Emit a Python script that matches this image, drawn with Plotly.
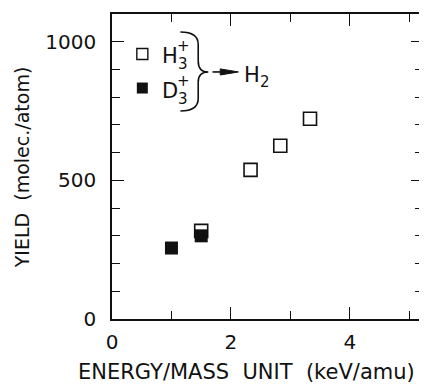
import plotly.graph_objects as go

# Data
h3_energy = [1.5, 2.33, 2.83, 3.33]
h3_yield = [318, 538, 625, 722]
d3_energy = [1.0, 1.5]
d3_yield = [256, 300]

x_ticks = [0, 2, 4]
y_ticks = [0, 500, 1000]

FONT = "DejaVu Sans, Verdana, sans-serif"
INK = "#111111"

fig = go.Figure()
fig.add_trace(go.Scatter(x=h3_energy, y=h3_yield, mode="markers",
                         marker=dict(symbol="square-open", size=13, color=INK,
                                     line=dict(width=1.6, color=INK)),
                         showlegend=False))
fig.add_trace(go.Scatter(x=d3_energy, y=d3_yield, mode="markers",
                         marker=dict(symbol="square", size=13, color=INK,
                                     line=dict(width=0)),
                         showlegend=False))

# legend keys (decoration)
fig.add_trace(go.Scatter(x=[0.51], y=[956], mode="markers",
                         marker=dict(symbol="square-open", size=11, color=INK,
                                     line=dict(width=1.4, color=INK)),
                         showlegend=False, hoverinfo="skip"))
fig.add_trace(go.Scatter(x=[0.51], y=[833], mode="markers",
                         marker=dict(symbol="square", size=11, color=INK),
                         showlegend=False, hoverinfo="skip"))

def txt(x, y, t, size):
    fig.add_annotation(x=x, y=y, text=t, showarrow=False, xref="x", yref="y",
                       font=dict(family=FONT, size=size, color=INK),
                       xanchor="center", yanchor="middle")

txt(0.97, 949, "H", 21)
txt(1.20, 985, "+", 15)
txt(1.20, 918, "3", 15)
txt(0.98, 822, "D", 21)
txt(1.20, 858, "+", 15)
txt(1.20, 795, "3", 15)
txt(2.36, 880, "H", 21)
txt(2.57, 853, "2", 15)

# brace
fig.add_shape(type="path",
              path="M 1.15,1035 Q 1.45,1035 1.45,990 L 1.45,930 Q 1.45,891 1.62,891 "
                   "Q 1.45,891 1.45,855 L 1.45,795 Q 1.45,750 1.15,750",
              line=dict(color=INK, width=1.6), xref="x", yref="y")
# arrow: shaft + narrow filled head
fig.add_shape(type="line", x0=1.69, y0=891, x1=1.86, y1=891,
              line=dict(color=INK, width=1.6), xref="x", yref="y")
fig.add_shape(type="path", path="M 1.82,902 L 2.126,891 L 1.82,880 Z",
              fillcolor=INK, line=dict(color=INK, width=1), xref="x", yref="y")

axis_common = dict(showline=True, linecolor=INK, linewidth=1.5, mirror="ticks",
                   ticks="inside", ticklen=12, tickwidth=1.2, tickcolor=INK,
                   showgrid=False, zeroline=False, automargin=False,
                   tickfont=dict(family=FONT, size=20, color=INK))

fig.update_xaxes(range=[0, 5.23], tickvals=x_ticks, ticktext=[str(v) for v in x_ticks],
                 minor=dict(dtick=1, tick0=0, ticks="inside", ticklen=8, tickcolor=INK, tickwidth=1.2),
                 ticklabelstandoff=4,
                 **axis_common)
fig.update_yaxes(range=[0, 1100], tickvals=y_ticks, ticktext=[str(v) for v in y_ticks],
                 minor=dict(dtick=100, tick0=0, ticks="inside", ticklen=8, tickcolor=INK, tickwidth=1.2),
                 ticklabelstandoff=10,
                 **axis_common)

# axis titles as annotations (positioned like the reference)
fig.add_annotation(text="ENERGY/MASS\u00a0 UNIT\u00a0 (keV/amu)", xref="paper", yref="paper",
                   x=0.431, y=-0.174, xanchor="center", yanchor="middle", showarrow=False,
                   font=dict(family=FONT, size=21, color=INK))
fig.add_annotation(text="YIELD\u00a0 (molec./atom)", xref="paper", yref="paper",
                   x=-0.289, y=0.498, xanchor="center", yanchor="middle", showarrow=False,
                   textangle=-90, font=dict(family=FONT, size=19, color=INK))

fig.update_layout(width=419, height=376, margin=dict(l=104, r=4, t=6, b=65),
                  paper_bgcolor="white", plot_bgcolor="white")

fig.write_html("out.html")
